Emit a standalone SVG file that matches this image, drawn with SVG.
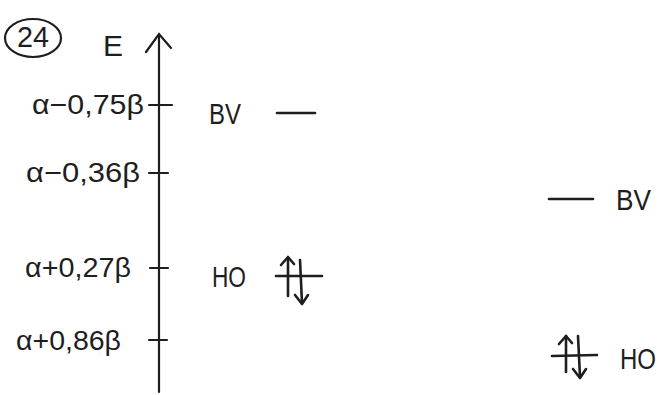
<svg xmlns="http://www.w3.org/2000/svg" width="664" height="395" viewBox="0 0 664 395">
<defs>
<style>
.ln{stroke:#1e1e1e;stroke-width:2.6;stroke-linecap:round;stroke-linejoin:round;fill:none}
.tk{stroke:#1e1e1e;stroke-width:2.2;stroke-linecap:round;fill:none}
.t{font-family:"Liberation Sans","DejaVu Sans",sans-serif;fill:#1e1e1e;font-size:30px}
.lab{font-family:"Liberation Sans","DejaVu Sans",sans-serif;fill:#1e1e1e;font-size:28px}
</style>
</defs>
<rect width="664" height="395" fill="#ffffff"/>
<g id="number">
<ellipse cx="33" cy="38" rx="28" ry="19" class="tk"/>
<text x="33" y="47" class="t" text-anchor="middle" font-size="26" textLength="32" lengthAdjust="spacingAndGlyphs">24</text>
</g>
<g id="axis">
<line x1="159" y1="35" x2="159" y2="392" class="tk"/>
<polyline points="146,52 159,34 171,48" class="tk"/>
<text x="103" y="56" class="t" font-size="28">E</text>
<line x1="149" y1="105" x2="172" y2="105" class="tk"/>
<line x1="149" y1="173" x2="168" y2="173" class="tk"/>
<line x1="150" y1="268" x2="168" y2="268" class="tk"/>
<line x1="149" y1="340" x2="167" y2="340" class="tk"/>
</g>
<g id="energy-labels">
<text x="32" y="114" class="lab" textLength="112" lengthAdjust="spacingAndGlyphs">α−0,75β</text>
<text x="26" y="182" class="lab" textLength="114" lengthAdjust="spacingAndGlyphs">α−0,36β</text>
<text x="25" y="277" class="lab" textLength="106" lengthAdjust="spacingAndGlyphs">α+0,27β</text>
<text x="16" y="350" class="lab" textLength="105" lengthAdjust="spacingAndGlyphs">α+0,86β</text>
</g>
<g id="left-BV">
<text x="209" y="124" class="t" textLength="32" lengthAdjust="spacingAndGlyphs">BV</text>
<line x1="277" y1="113" x2="315" y2="113" class="ln"/>
</g>
<g id="left-HO">
<text x="212" y="287" class="t" textLength="34" lengthAdjust="spacingAndGlyphs">HO</text>
<line x1="276" y1="276" x2="322" y2="276" class="ln"/>
<line x1="288" y1="296" x2="288" y2="258" class="ln"/>
<polyline points="281,265 288,257 294,264" class="ln"/>
<line x1="300" y1="260" x2="302" y2="303" class="ln"/>
<polyline points="295,295 302,304 308,295" class="ln"/>
</g>
<g id="right-BV">
<line x1="549" y1="199" x2="593" y2="199" class="ln"/>
<text x="616" y="210" class="t" textLength="35" lengthAdjust="spacingAndGlyphs">BV</text>
</g>
<g id="right-HO">
<line x1="552" y1="356" x2="597" y2="355" class="ln"/>
<line x1="566" y1="372" x2="566" y2="336" class="ln"/>
<polyline points="559,344 566,336 572,343" class="ln"/>
<line x1="578" y1="336" x2="580" y2="377" class="ln"/>
<polyline points="573,369 580,378 586,369" class="ln"/>
<text x="620" y="369" class="t" textLength="36" lengthAdjust="spacingAndGlyphs">HO</text>
</g>
<g id="connectors"></g>
</svg>
